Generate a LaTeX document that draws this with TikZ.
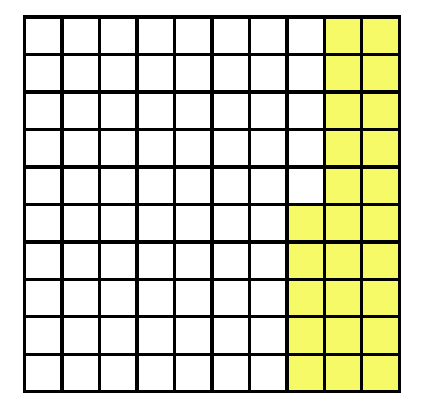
\documentclass[tikz,border=0pt]{standalone}
\usepackage{amsmath, amssymb, tikz}

\definecolor{cellyellow}{RGB}{246,250,102}

\begin{document}
\begin{tikzpicture}
    % Fix the margins
    \useasboundingbox (-0.65,-0.48) rectangle (10.58,10.45);

    % --- Shaded cells ---
    % Two right columns, full height
    \fill[cellyellow] (8,0) rectangle (10,10);
    % Third column from the right, lower half only
    \fill[cellyellow] (7,0) rectangle (8,5);

    % --- Grid over everything ---
    \draw[line width=2.6pt, step=1] (0,0) grid (10,10);
    \draw[line width=2.6pt] (0,0) rectangle (10,10);

\end{tikzpicture}
\end{document}
